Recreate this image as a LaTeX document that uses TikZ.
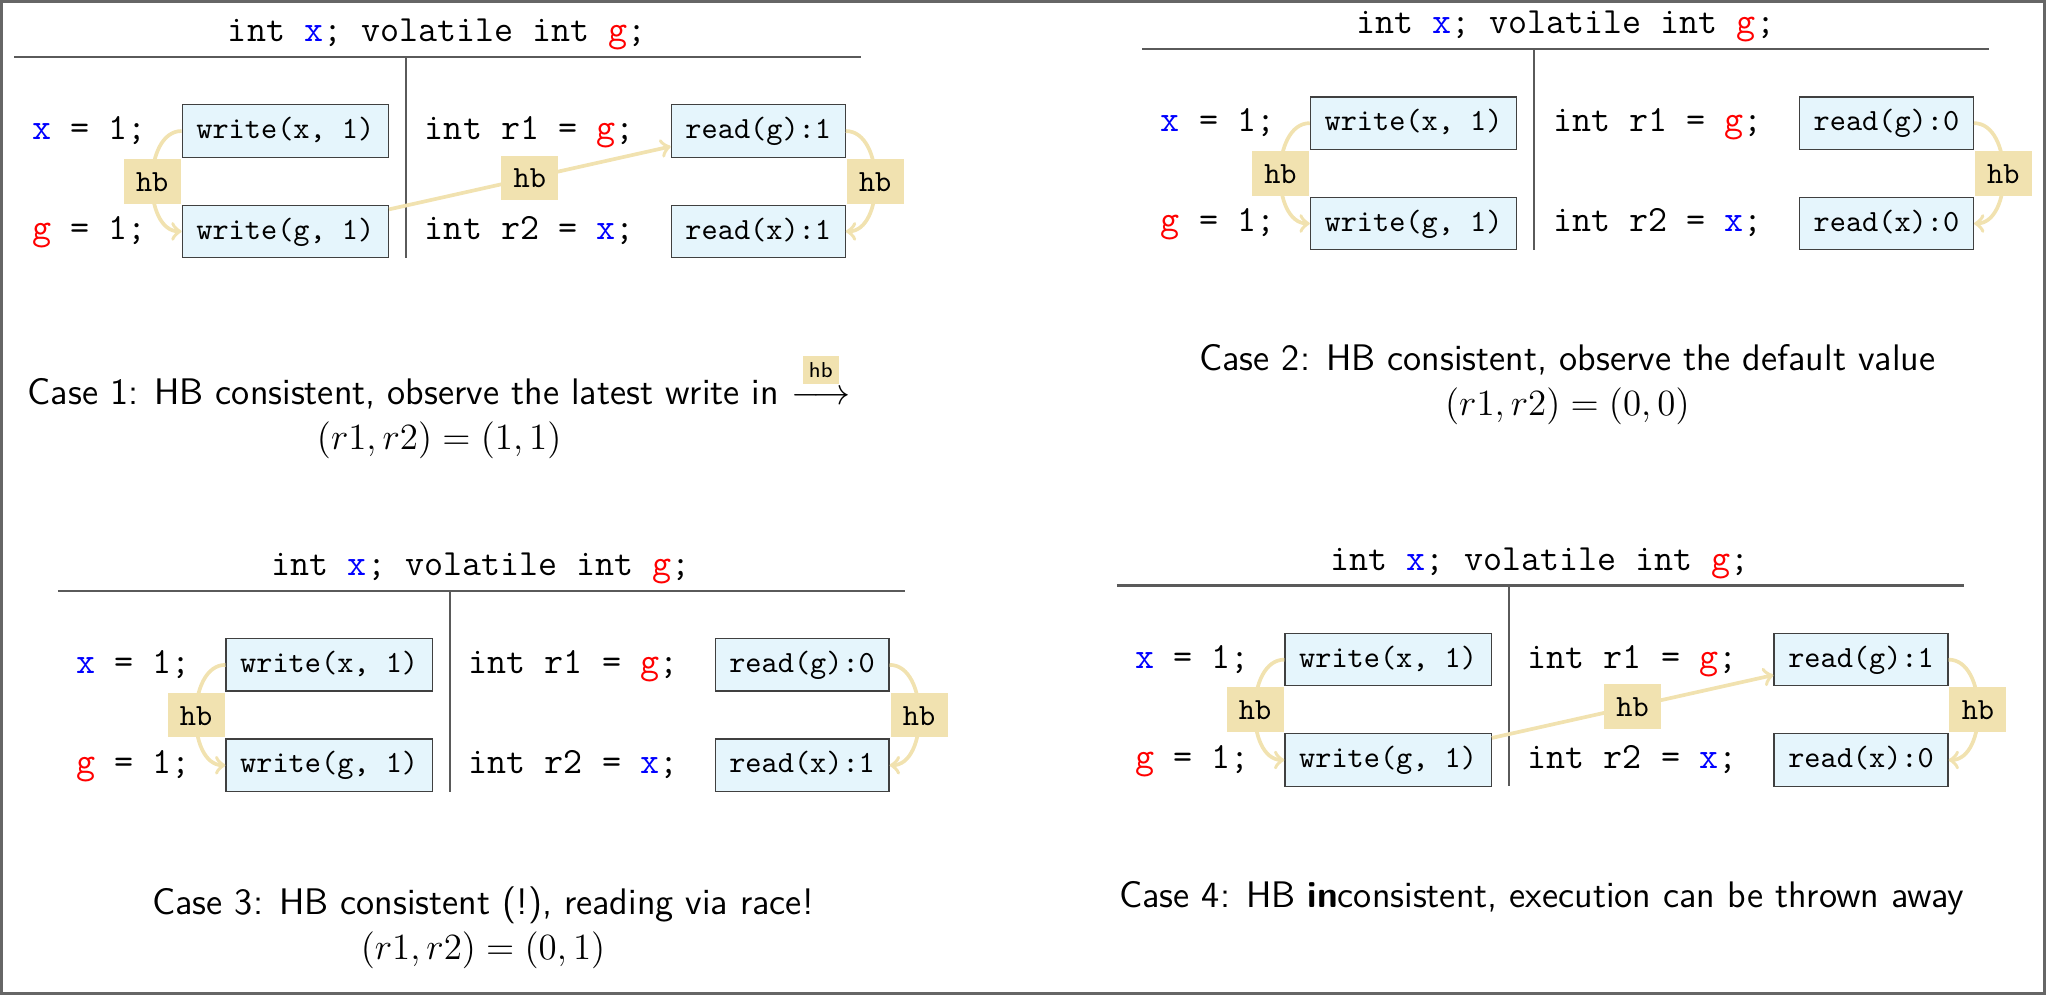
\documentclass[tikz,border=0pt]{standalone}
\usepackage{amsmath}
\usetikzlibrary{positioning}
\definecolor{boxblue}{RGB}{229,245,252}
\definecolor{hbtan}{RGB}{241,226,176}
\definecolor{rulegray}{RGB}{90,90,90}
\newcommand{\varx}{\textcolor{blue}{x}}
\newcommand{\varg}{\textcolor{red}{g}}
\newcommand{\hbarrow}{\overset{\text{\raisebox{2pt}{\fboxsep=2pt\colorbox{hbtan}{\sffamily\scriptsize hb}}}}{\longrightarrow}}
\tikzset{
  event/.style={
    draw=black!75,
    fill=boxblue,
    font=\ttfamily\fontsize{10}{12}\selectfont,
    inner xsep=4.6pt,
    inner ysep=3.5pt,
    text height=7.5pt,
    text depth=2.5pt,
  },
  code/.style={
    font=\ttfamily\fontsize{12}{14}\selectfont,
    text height=8pt,
    text depth=2.5pt,
  },
  hbedge/.style={->, hbtan, line width=1.2pt},
  hblabel/.style={
    fill=hbtan,
    text=black,
    font=\ttfamily\fontsize{10}{12}\selectfont,
    inner sep=4pt,
    text height=6.5pt,
    text depth=0pt,
  },
  rule/.style={rulegray, line width=0.7pt},
  caption/.style={
    font=\sffamily\fontsize{12}{14.6}\selectfont,
    align=center,
    anchor=north,
  },
}

\begin{document}
\begin{tikzpicture}
  \useasboundingbox (0,0) rectangle (23.34,11.35);
  \draw[black!60, line width=1pt] (0.02,0.02) rectangle (23.32,11.33);

  % one panel per case
  \foreach \p/\px/\py/\rgv/\rxv in {1/4.63/10.70/1/1, 2/17.50/10.79/0/0,
                                    3/5.13/4.61/0/1, 4/17.21/4.67/1/0} {
    \begin{scope}[shift={(\px,\py)}]
      % Declarations
      \node[code] (decl\p) at (0.36,0.27) {int \varx; volatile int \varg;};
      \draw[rule] (-4.47,0) -- (5.19,0);
      \draw[rule] (0,0) -- (0,-2.29);

      % Events
      \node[event] (wx\p) at (-1.375,-0.845) {write(x, 1)};
      \node[event] (wg\p) at (-1.375,-1.99) {write(g, 1)};
      \node[event] (rg\p) at (4.02,-0.845) {read(g):\rgv};
      \node[event] (rx\p) at (4.02,-1.99) {read(x):\rxv};

      % Source lines
      \node[code, left=0.27cm of wx\p] (sx\p) {\varx{} = 1;};
      \node[code, left=0.27cm of wg\p] (sg\p) {\varg{} = 1;};
      \node[code, left=0.29cm of rg\p] (sr1\p) {int r1 = \varg;};
      \node[code, left=0.29cm of rx\p] (sr2\p) {int r2 = \varx;};

      % Program order
      \draw[hbedge] (wx\p.west) to[out=180, in=180] node[hblabel] (hbl\p) {hb} (wg\p.west);
      \draw[hbedge] (rg\p.east) to[out=0, in=0] node[hblabel] (hbr\p) {hb} (rx\p.east);

      \coordinate (cap\p) at (0.38,-3.25);
    \end{scope}
  }

  % Synchronizes-with
  \draw[hbedge] (wg1.12) -- node[hblabel] (hbm1) {hb} (rg1.190);
  \draw[hbedge] (wg4.12) -- node[hblabel] (hbm4) {hb} (rg4.190);

  % Captions
  \node[caption] (case1) at (cap1) {Case 1: HB consistent, observe the latest write in $\hbarrow$\\ $(r1,r2)=(1,1)$};
  \node[caption] (case2) at (cap2) {Case 2: HB consistent, observe the default value\\ $(r1,r2)=(0,0)$};
  \node[caption] (case3) at (cap3) {Case 3: HB consistent (!), reading via race!\\ $(r1,r2)=(0,1)$};
  \node[caption] (case4) at (cap4) {Case 4: HB \textbf{in}consistent, execution can be thrown away};
\end{tikzpicture}
\end{document}
